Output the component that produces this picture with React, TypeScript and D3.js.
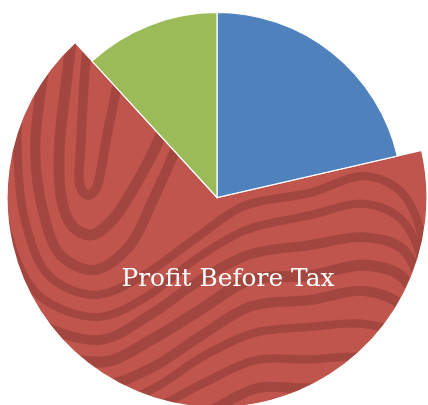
import React from "react";
import * as d3 from "d3";

// ---- data ----
const categories = ["Tax", "Profit Before Tax", "Other"];
const values = [21.4, 66.8, 11.8];
const colors = ["#4F81BD", "#C0554D", "#9BBB59"];
const labelled = ["Profit Before Tax"];

const W = 428;
const H = 405;

// decorative wood-grain rings (texture only): half-width, depth below knot, level on the right
const ringA = [10, 30, 50, 70, 90, 110, 130, 150, 170, 190, 210, 230, 250];
const ringB = [25, 65, 100, 125, 147, 170, 192, 214, 236, 258, 280, 302, 324];
const ringL = [0, 0, 0, 206, 230, 255, 280, 306, 333, 360, 388, 416, 444];

export default function App() {
  const cx = 217;
  const cy = 197.5;
  const rBase = 185;
  const rBig = 210;

  const pie = d3
    .pie<number>()
    .sort(null)
    .value((d) => d)
    .startAngle(0)
    .endAngle(2 * Math.PI);
  const arcs = pie(values);

  const arcGen = d3.arc<d3.PieArcDatum<number>>().innerRadius(0);

  const redIdx = categories.indexOf("Profit Before Tax");
  const redPath = arcGen.outerRadius(rBig)(arcs[redIdx]) as string;

  // grain in absolute page coords
  const fx = 88;
  const fy = 170;
  const line = d3
    .line<[number, number]>()
    .x((d) => d[0])
    .y((d) => d[1])
    .curve(d3.curveCatmullRom.alpha(0.5));
  const grain: { d: string; w: number }[] = [];
  ringA.forEach((a, k) => {
    const b = ringB[k];
    const j = (p: number) => 3 * Math.sin(p + k * 1.7);
    const pts: [number, number][] = [
      [fx - a + 22, -40],
      [fx - a + 8 + j(0), 60],
      [fx - a + j(1), fy - 20],
      [fx - a * 0.88, fy + b * 0.45],
      [fx - a * 0.55, fy + b * 0.85],
      [fx + a * 0.1, fy + b],
    ];
    if (k === 0) {
      pts.push(
        [fx + a * 0.8, fy + b * 0.75],
        [fx + a + 2, fy + b * 0.2],
        [fx + a + 10, fy - 40],
        [fx + a + 40, fy - 180]
      );
    } else if (k <= 2) {
      pts.push(
        [fx + a * 0.8, fy + b * 0.8 + j(2)],
        [fx + a + 15, fy + b * 0.3],
        [fx + a + 45, fy - 40],
        [fx + a + 90, fy - 180]
      );
    } else {
      const L = ringL[k];
      const bx = fx + a * 0.1;
      const by = fy + b;
      const xh = 238 + k * 2;
      const dx = xh - bx;
      const dy = by - L;
      const f = Math.max(0, 1 - (k - 3) * 0.18);
      pts.push(
        [bx + 0.33 * dx, by - 0.25 * dy + j(2)],
        [bx + 0.66 * dx, by - 0.65 * dy + j(3)],
        [xh, L],
        [310, L - 2 - 12 * f + j(4)],
        [365, L - 6 - 22 * f + j(5)],
        [403, L + 6 - 18 * f],
        [428, L + 55],
        [445, L + 200]
      );
    }
    grain.push({ d: line(pts) as string, w: 9.5 + 1.5 * Math.sin(k * 1.3) });
  });

  return (
    <svg
      width={W}
      height={H}
      style={{ position: "fixed", left: 0, top: 0, display: "block" }}
    >
      <defs>
        <clipPath id="redClip">
          <path d={redPath} />
        </clipPath>
      </defs>
      <g transform={`translate(${cx},${cy})`}>
        <path d={redPath} fill={colors[redIdx]} />
        <g clipPath="url(#redClip)">
          <g transform={`translate(${-cx},${-cy})`}>
            {grain.map((g, i) => (
              <path
                key={i}
                d={g.d}
                fill="none"
                stroke="#A3463F"
                strokeWidth={g.w}
                strokeLinecap="round"
              />
            ))}
          </g>
        </g>
        <path d={redPath} fill="none" stroke="#fff" strokeWidth={1.2} />
        {arcs.map((a, i) =>
          i === redIdx ? null : (
            <path
              key={i}
              d={arcGen.outerRadius(rBase)(a) as string}
              fill={colors[i]}
              stroke="#fff"
              strokeWidth={1.2}
            />
          )
        )}
        {labelled.map((l) => (
          <text
            key={l}
            x={11}
            y={88}
            textAnchor="middle"
            fill="#fff"
            fontFamily="'DejaVu Serif', serif"
            fontSize={25}
            textLength={213}
            lengthAdjust="spacingAndGlyphs"
          >
            {l}
          </text>
        ))}
      </g>
    </svg>
  );
}
